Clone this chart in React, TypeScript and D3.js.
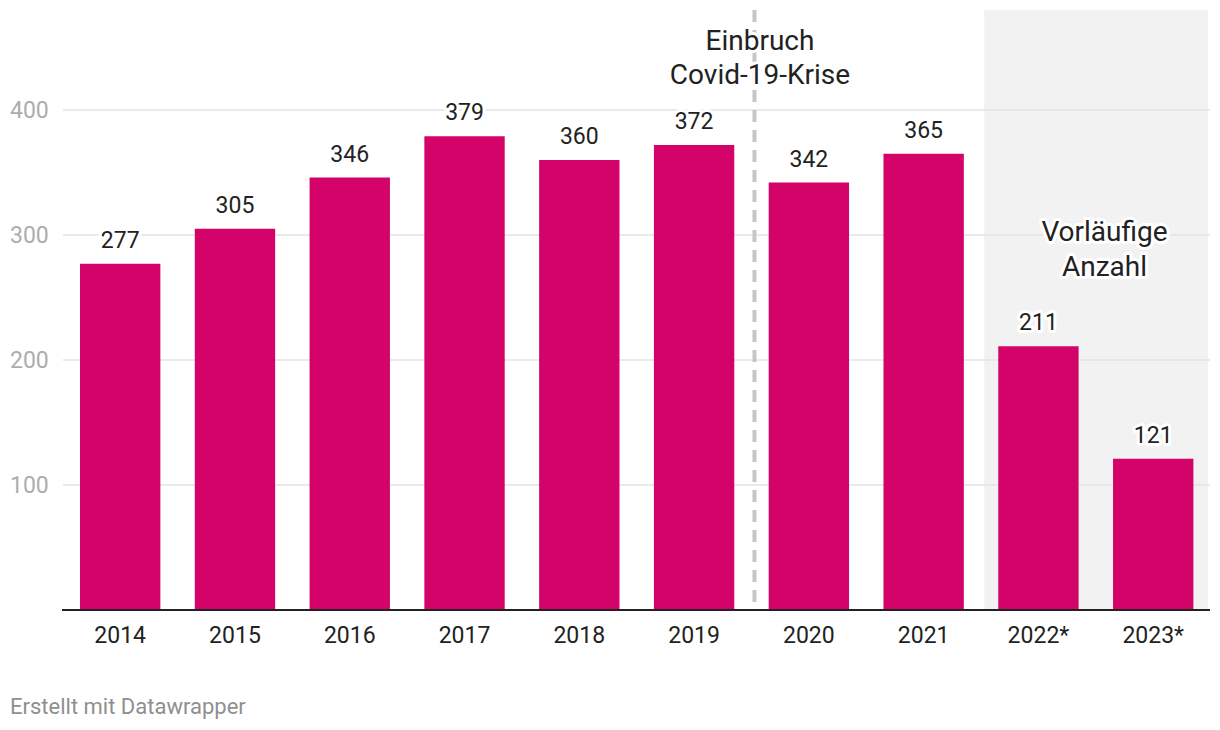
import React from "react";
import * as d3 from "d3";

const years = ["2014", "2015", "2016", "2017", "2018", "2019", "2020", "2021", "2022*", "2023*"];
const values = [277, 305, 346, 379, 360, 372, 342, 365, 211, 121];
const yTicks = [100, 200, 300, 400];
const covidLines = ["Einbruch", "Covid-19-Krise"];
const prelimLines = ["Vorläufige", "Anzahl"];
const footer = "Erstellt mit Datawrapper";

const W = 1220;
const H = 730;
const FONT = "Roboto, 'Noto Sans', sans-serif";
const BAR = "#d3036a";

export default function App() {
  const x = d3.scaleBand<string>().domain(years).range([62.8, 1210.6]).paddingInner(0.3).paddingOuter(0.15);
  const y = d3.scaleLinear().domain([0, 400]).range([610, 110]);
  const bw = x.bandwidth();
  const gap = x.step() - bw;
  const dashX = (x("2020") as number) - gap / 2 + 3;
  const shadeX0 = (x("2022*") as number) - 14;
  const shadeX1 = 1208;
  const halo = { stroke: "#fff", strokeWidth: 6, paintOrder: "stroke" as const, strokeLinejoin: "round" as const };

  return (
    <svg width={W} height={H} style={{ position: "absolute", left: 0, top: 0, background: "#fff" }} fontFamily={FONT}>
      <rect x={shadeX0} y={10} width={shadeX1 - shadeX0} height={600} fill="#f2f2f2" />
      {yTicks.map((t) => (
        <g key={t}>
          <line x1={63} x2={1210} y1={y(t)} y2={y(t)} stroke="#e3e3e3" strokeWidth={1.5} />
          <text x={10} y={y(t)} dy="0.35em" fontSize={23} fill="#adadad">{t}</text>
        </g>
      ))}
      <line x1={dashX} x2={dashX} y1={10} y2={610} stroke="#c6c6c6" strokeWidth={4} strokeDasharray="12 8" />
      {years.map((yr, i) => (
        <rect key={yr} x={x(yr)} y={y(values[i])} width={bw} height={y(0) - y(values[i])} fill={BAR} />
      ))}
      {years.map((yr, i) => (
        <text key={yr + "v"} x={(x(yr) as number) + bw / 2} y={y(values[i]) - 16} textAnchor="middle" fontSize={23} fill="#222" style={halo}>
          {values[i]}
        </text>
      ))}
      <line x1={62} x2={1210} y1={610} y2={610} stroke="#222" strokeWidth={2} />
      {years.map((yr) => (
        <text key={yr + "x"} x={(x(yr) as number) + bw / 2} y={643} textAnchor="middle" fontSize={23} fill="#222">
          {yr}
        </text>
      ))}
      {covidLines.map((l, i) => (
        <text key={l} x={760} y={50 + i * 33.5} textAnchor="middle" fontSize={28} fill="#222" style={halo}>{l}</text>
      ))}
      {prelimLines.map((l, i) => (
        <text key={l} x={1104.5} y={241 + i * 34.5} textAnchor="middle" fontSize={28} fill="#222" style={halo}>{l}</text>
      ))}
      <text x={10} y={714} fontSize={22} fill="#8f8f8f">{footer}</text>
    </svg>
  );
}
